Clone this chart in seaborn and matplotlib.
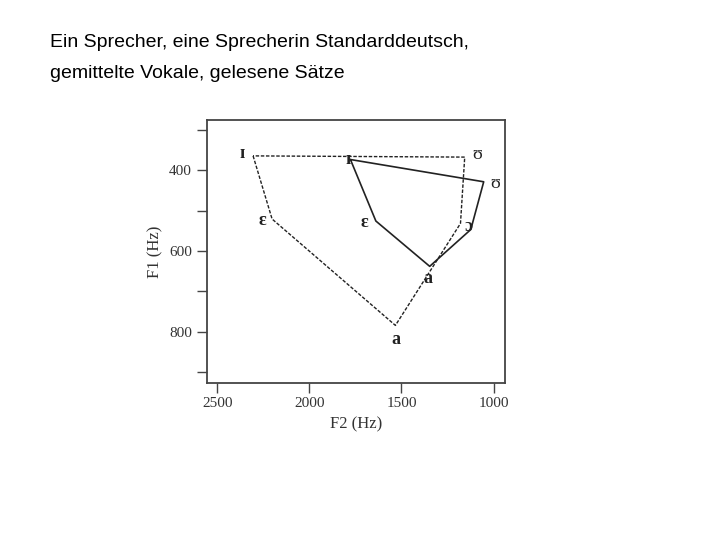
import matplotlib
matplotlib.use("Agg")
import matplotlib.pyplot as plt
import seaborn as sns
import numpy as np
import pandas as pd

# vowel means, speaker 1 (dashed) and speaker 2 (solid)
vowels_dashed = ["ɪ", "ɛ", "a", "ɔ", "ʊ"]
f2_dashed = [2305, 2202, 1533, 1180, 1157]
f1_dashed = [365, 521, 784, 532, 368]

vowels_solid = ["ɪ", "ʊ", "ɔ", "a", "ɛ"]
f2_solid = [1777, 1054, 1124, 1347, 1639]
f1_solid = [374, 429, 547, 638, 526]

yticks = [300, 400, 500, 600, 700, 800, 900]
ytick_labels = ["", "400", "", "600", "", "800", ""]
xticks = [2500, 2000, 1500, 1000]

serif = ["Liberation Serif", "DejaVu Serif"]


def closed(f2, f1):
    return pd.DataFrame({"F2": list(f2) + [f2[0]], "F1": list(f1) + [f1[0]],
                         "order": range(len(f2) + 1)})


sns.set_style("ticks")
fig = plt.figure(figsize=(7.2, 5.4), dpi=100)
ax = fig.add_axes([0.287, 0.291, 0.414, 0.487])

sns.lineplot(data=closed(f2_dashed, f1_dashed), x="F2", y="F1", sort=False,
             estimator=None, ax=ax, color="#222222", linewidth=1.0,
             dashes=False, linestyle=(0, (2.5, 1.2)))
sns.lineplot(data=closed(f2_solid, f1_solid), x="F2", y="F1", sort=False,
             estimator=None, ax=ax, color="#222222", linewidth=1.2)

# label offsets in points (dx, dy) and weight
lab_dashed = {"ɪ": (-8, 2, "bold"), "ɛ": (-7, -1, "bold"), "a": (0, -10, "bold"),
              "ɔ": (6, -2, "bold"), "ʊ": (9, 2, "normal")}
lab_solid = {"ɪ": (-2, 0, "bold"), "ɛ": (-8, -1, "bold"), "a": (-1, -9, "bold"),
             "ʊ": (8, -1, "normal")}

for v, x, y in zip(vowels_dashed, f2_dashed, f1_dashed):
    dx, dy, w = lab_dashed[v]
    ax.annotate(v, (x, y), xytext=(dx, dy), textcoords="offset points",
                ha="center", va="center", fontsize=13, fontweight=w,
                family=serif, color="#222222")
for v, x, y in zip(vowels_solid, f2_solid, f1_solid):
    if v not in lab_solid:
        continue
    dx, dy, w = lab_solid[v]
    ax.annotate(v, (x, y), xytext=(dx, dy), textcoords="offset points",
                ha="center", va="center", fontsize=13, fontweight=w,
                family=serif, color="#222222")

ax.set_xlim(2557, 940)
ax.set_ylim(926, 276)
ax.set_yticks(yticks)
ax.set_yticklabels(ytick_labels)
ax.set_xticks(xticks)
ax.set_xticklabels([str(t) for t in xticks])
ax.set_xlabel("F2 (Hz)", family=serif, fontsize=12, color="#333333")
ax.set_ylabel("F1 (Hz)", family=serif, fontsize=12, color="#333333")
for lab in ax.get_xticklabels() + ax.get_yticklabels():
    lab.set_family(serif)
    lab.set_fontsize(11)
    lab.set_color("#333333")
ax.tick_params(direction="out", length=7, width=1, color="#444444")
for s in ax.spines.values():
    s.set_visible(True)
    s.set_color("#444444")
    s.set_linewidth(1.3)

fig.text(0.069, 0.937, "Ein Sprecher, eine Sprecherin Standarddeutsch,\n"
         "gemittelte Vokale, gelesene Sätze",
         ha="left", va="top", fontsize=14, color="black",
         family=["Liberation Sans", "DejaVu Sans"], linespacing=2.08)

fig.savefig("out.png", dpi=100)
